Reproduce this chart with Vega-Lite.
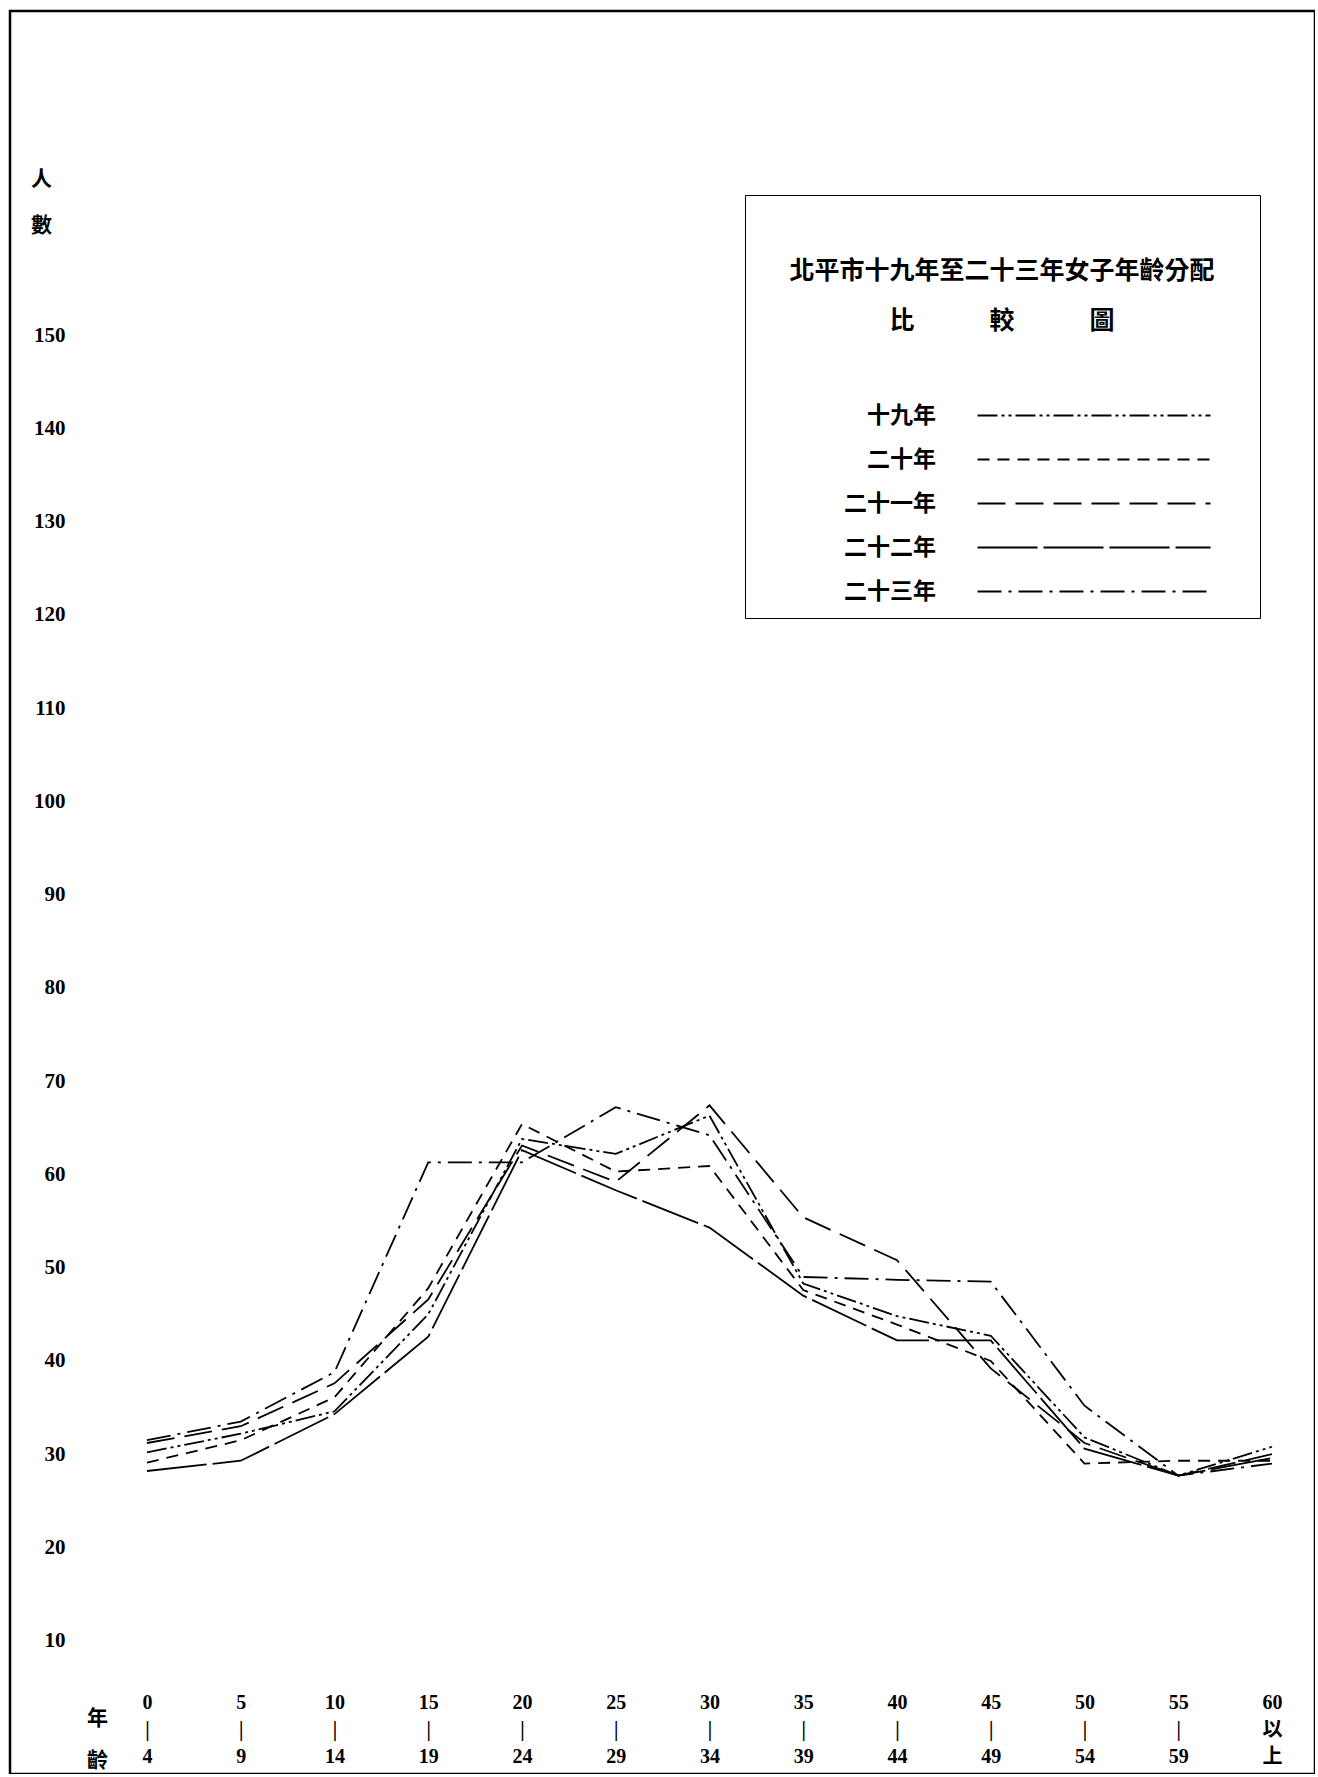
{
  "$schema": "https://vega.github.io/schema/vega-lite/v6.json",
  "width": 1305,
  "height": 1763,
  "autosize": {"type": "none"},
  "padding": {"left": 10, "top": 11, "right": 0, "bottom": 0},
  "background": "white",
  "config": {
    "view": {"stroke": "black", "strokeWidth": 2.5},
    "axis": {"labelColor": "black", "titleColor": "black", "grid": false}
  },
  "data": {
    "values": [
      {"age": "0-4", "year": "十九年", "value": 30.2},
      {"age": "5-9", "year": "十九年", "value": 32.2},
      {"age": "10-14", "year": "十九年", "value": 34.6},
      {"age": "15-19", "year": "十九年", "value": 45.0},
      {"age": "20-24", "year": "十九年", "value": 63.8},
      {"age": "25-29", "year": "十九年", "value": 62.2},
      {"age": "30-34", "year": "十九年", "value": 66.3},
      {"age": "35-39", "year": "十九年", "value": 48.3},
      {"age": "40-44", "year": "十九年", "value": 44.8},
      {"age": "45-49", "year": "十九年", "value": 42.7},
      {"age": "50-54", "year": "十九年", "value": 31.8},
      {"age": "55-59", "year": "十九年", "value": 27.7},
      {"age": "60以上", "year": "十九年", "value": 30.8},

      {"age": "0-4", "year": "二十年", "value": 29.1},
      {"age": "5-9", "year": "二十年", "value": 31.5},
      {"age": "10-14", "year": "二十年", "value": 36.1},
      {"age": "15-19", "year": "二十年", "value": 47.8},
      {"age": "20-24", "year": "二十年", "value": 65.4},
      {"age": "25-29", "year": "二十年", "value": 60.3},
      {"age": "30-34", "year": "二十年", "value": 60.9},
      {"age": "35-39", "year": "二十年", "value": 47.6},
      {"age": "40-44", "year": "二十年", "value": 43.9},
      {"age": "45-49", "year": "二十年", "value": 40.0},
      {"age": "50-54", "year": "二十年", "value": 29.0},
      {"age": "55-59", "year": "二十年", "value": 29.3},
      {"age": "60以上", "year": "二十年", "value": 29.3},

      {"age": "0-4", "year": "二十一年", "value": 31.2},
      {"age": "5-9", "year": "二十一年", "value": 33.0},
      {"age": "10-14", "year": "二十一年", "value": 37.6},
      {"age": "15-19", "year": "二十一年", "value": 46.6},
      {"age": "20-24", "year": "二十一年", "value": 63.1},
      {"age": "25-29", "year": "二十一年", "value": 59.2},
      {"age": "30-34", "year": "二十一年", "value": 67.4},
      {"age": "35-39", "year": "二十一年", "value": 55.4},
      {"age": "40-44", "year": "二十一年", "value": 50.8},
      {"age": "45-49", "year": "二十一年", "value": 39.2},
      {"age": "50-54", "year": "二十一年", "value": 31.2},
      {"age": "55-59", "year": "二十一年", "value": 27.7},
      {"age": "60以上", "year": "二十一年", "value": 30.0},

      {"age": "0-4", "year": "二十二年", "value": 28.2},
      {"age": "5-9", "year": "二十二年", "value": 29.3},
      {"age": "10-14", "year": "二十二年", "value": 34.3},
      {"age": "15-19", "year": "二十二年", "value": 42.6},
      {"age": "20-24", "year": "二十二年", "value": 62.6},
      {"age": "25-29", "year": "二十二年", "value": 58.3},
      {"age": "30-34", "year": "二十二年", "value": 54.3},
      {"age": "35-39", "year": "二十二年", "value": 47.0},
      {"age": "40-44", "year": "二十二年", "value": 42.2},
      {"age": "45-49", "year": "二十二年", "value": 42.2},
      {"age": "50-54", "year": "二十二年", "value": 30.6},
      {"age": "55-59", "year": "二十二年", "value": 27.7},
      {"age": "60以上", "year": "二十二年", "value": 29.6},

      {"age": "0-4", "year": "二十三年", "value": 31.5},
      {"age": "5-9", "year": "二十三年", "value": 33.5},
      {"age": "10-14", "year": "二十三年", "value": 38.8},
      {"age": "15-19", "year": "二十三年", "value": 61.3},
      {"age": "20-24", "year": "二十三年", "value": 61.3},
      {"age": "25-29", "year": "二十三年", "value": 67.2},
      {"age": "30-34", "year": "二十三年", "value": 64.2},
      {"age": "35-39", "year": "二十三年", "value": 49.0},
      {"age": "40-44", "year": "二十三年", "value": 48.7},
      {"age": "45-49", "year": "二十三年", "value": 48.5},
      {"age": "50-54", "year": "二十三年", "value": 35.2},
      {"age": "55-59", "year": "二十三年", "value": 27.7},
      {"age": "60以上", "year": "二十三年", "value": 29.0}
    ]
  },
  "mark": {"type": "line", "color": "black", "strokeWidth": 1.8},
  "encoding": {
    "x": {
      "field": "age",
      "type": "ordinal",
      "sort": null,
      "scale": {"type": "point", "range": [137, 1262], "padding": 0},
      "axis": {
        "title": ["年", "齡"],
        "domain": false,
        "ticks": false,
        "tickSize": 0,
        "offset": -82,
        "labelPadding": 0,
        "labelAngle": 0,
        "labelAlign": "center",
        "labelBaseline": "top",
        "labelLineHeight": 27,
        "labelOverlap": false,
        "labelFlush": false,
        "labelExpr": "datum.label == '60以上' ? ['60', '以', '上'] : [split(datum.label, '-')[0], '|', split(datum.label, '-')[1]]",
        "labelFont": "Liberation Serif, Noto Sans CJK TC",
        "labelFontWeight": "bold",
        "labelFontSize": 20,
        "titleX": 87,
        "titleY": 15,
        "titleAngle": 0,
        "titleAlign": "center",
        "titleBaseline": "top",
        "titleLineHeight": 42,
        "titleFont": "Noto Sans CJK TC",
        "titleFontSize": 21,
        "titleFontWeight": "bold"
      }
    },
    "y": {
      "field": "value",
      "type": "quantitative",
      "scale": {"domain": [0, 150], "range": [1723, 324], "nice": false},
      "axis": {
        "values": [10, 20, 30, 40, 50, 60, 70, 80, 90, 100, 110, 120, 130, 140, 150],
        "title": ["人", "數"],
        "domain": false,
        "ticks": false,
        "tickSize": 0,
        "offset": -55,
        "labelPadding": 0,
        "labelAlign": "right",
        "labelBaseline": "middle",
        "labelFont": "Liberation Serif",
        "labelFontWeight": "bold",
        "labelFontSize": 21,
        "titleAngle": 0,
        "titleX": -24,
        "titleY": 157,
        "titleAlign": "center",
        "titleBaseline": "top",
        "titleLineHeight": 46,
        "titleFont": "Noto Sans CJK TC",
        "titleFontSize": 21,
        "titleFontWeight": "bold"
      }
    },
    "strokeDash": {
      "field": "year",
      "type": "nominal",
      "scale": {
        "domain": ["十九年", "二十年", "二十一年", "二十二年", "二十三年"],
        "range": [[20, 4, 3, 4, 3, 4], [12, 8], [28, 10], [60, 6], [24, 7, 3, 7]]
      },
      "legend": {
        "orient": "none",
        "legendX": 735,
        "legendY": 184,
        "title": ["", "北平市十九年至二十三年女子年齡分配", "比　　　較　　　圖"],
        "titleFont": "Noto Sans CJK TC",
        "titleFontSize": 25,
        "titleFontWeight": "bold",
        "titleColor": "black",
        "titleLineHeight": 50,
        "titleAnchor": "middle",
        "titleLimit": 1000,
        "titlePadding": 70,
        "labelFont": "Noto Sans CJK TC",
        "labelFontSize": 23,
        "labelFontWeight": "bold",
        "labelColor": "black",
        "labelAlign": "right",
        "labelOffset": -63,
        "labelLimit": 500,
        "symbolType": "M -1 0 H 22.3 M 25.4 0 H 25.4",
        "symbolSize": 400,
        "symbolStrokeWidth": 2,
        "symbolStrokeColor": "black",
        "symbolOffset": 217,
        "rowPadding": 20,
        "strokeColor": "black",
        "fillColor": "white",
        "padding": 14
      }
    }
  }
}
